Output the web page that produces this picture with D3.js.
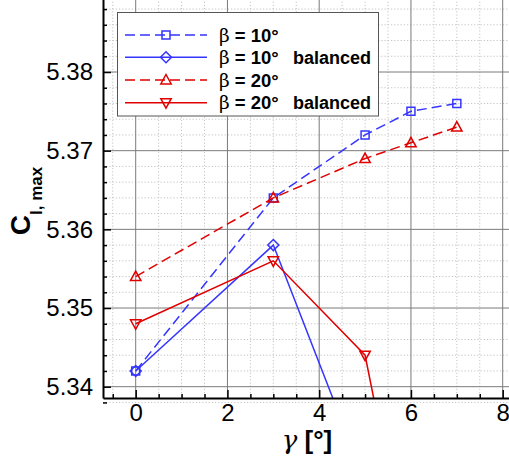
<!DOCTYPE html>
<html>
<head>
<meta charset="utf-8">
<script src="https://cdn.jsdelivr.net/npm/d3@7"></script>
<style>
  html, body { margin: 0; padding: 0; background: #fff; }
  svg { display: block; font-family: "Liberation Sans", Arial, Helvetica, sans-serif; }
</style>
</head>
<body>
<svg id="chart" width="509" height="457"></svg>
<script>
// Maximum lift coefficient vs. gamma for two beta settings
const gammaFull = [0, 3, 5, 6, 7];
const clBeta10 = [5.342, 5.364, 5.372, 5.375, 5.376];
const clBeta20 = [5.354, 5.364, 5.369, 5.371, 5.373];
const gammaBal10 = [0, 3, 5];
const clBeta10Bal = [5.342, 5.358, 5.328];
const gammaBal20 = [0, 3, 5, 6];
const clBeta20Bal = [5.348, 5.356, 5.344, 5.315];

const xTicks = [0, 2, 4, 6, 8];
const yTicks = [5.34, 5.35, 5.36, 5.37, 5.38];
const seriesNames = ["\u03b2 = 10\u00b0", "\u03b2 = 10\u00b0", "\u03b2 = 20\u00b0", "\u03b2 = 20\u00b0"];
const seriesTags = ["", "balanced", "", "balanced"];

const BLUE = "#3535ff";
const RED = "#e00000";

const svg = d3.select("#chart");

// plot frame (extends a little past the visible page at top and right)
const frameL = 103, frameR = 512, frameB = 398, frameT = -8;

const x = d3.scaleLinear().domain([0, 8]).range([135.7, 502.7]);
const y = d3.scaleLinear().domain([5.34, 5.38]).range([386.7, 72]);

const xFull = x.copy().domain([x.invert(frameL), x.invert(frameR)]).range([frameL, frameR]);
const yFull = y.copy().domain([y.invert(frameB), y.invert(frameT)]).range([frameB, frameT]);

const xMinor = d3.range(-0.5, 8.51, 0.5).filter(v => Math.abs(v % 2) > 1e-9);
const yMinor = d3.range(0, 26).map(i => +(5.338 + i * 0.002).toFixed(3))
  .filter(v => !yTicks.some(t => Math.abs(t - v) < 1e-9));

svg.append("defs").append("clipPath").attr("id", "plotClip")
  .append("rect").attr("x", frameL).attr("y", frameT)
  .attr("width", frameR - frameL).attr("height", frameB - frameT);

// grid
const grid = svg.append("g");
grid.selectAll("line.vmin").data(xMinor).join("line")
  .attr("x1", d => x(d)).attr("x2", d => x(d)).attr("y1", frameT).attr("y2", frameB)
  .attr("stroke", "#c4c4c4").attr("stroke-width", 1).attr("stroke-dasharray", "1.2,2");
grid.selectAll("line.hmin").data(yMinor).join("line")
  .attr("x1", frameL).attr("x2", frameR).attr("y1", d => y(d)).attr("y2", d => y(d))
  .attr("stroke", "#c4c4c4").attr("stroke-width", 1).attr("stroke-dasharray", "1.2,2");
grid.selectAll("line.vmaj").data(xTicks).join("line")
  .attr("x1", d => x(d)).attr("x2", d => x(d)).attr("y1", frameT).attr("y2", frameB)
  .attr("stroke", "#7a7a7a").attr("stroke-width", 1);
grid.selectAll("line.hmaj").data(yTicks).join("line")
  .attr("x1", frameL).attr("x2", frameR).attr("y1", d => y(d)).attr("y2", d => y(d))
  .attr("stroke", "#7a7a7a").attr("stroke-width", 1);

// data series
const plot = svg.append("g").attr("clip-path", "url(#plotClip)");
const series = [
  { gx: gammaFull, cl: clBeta10, color: BLUE, dash: "10,5", marker: "square" },
  { gx: gammaBal10, cl: clBeta10Bal, color: BLUE, dash: null, marker: "diamond" },
  { gx: gammaFull, cl: clBeta20, color: RED, dash: "10,5", marker: "up" },
  { gx: gammaBal20, cl: clBeta20Bal, color: RED, dash: null, marker: "down" }
];

function markerPath(type) {
  if (type === "square") return "M-4,-4H4V4H-4Z";
  if (type === "diamond") return "M0,-5.5L5.5,0L0,5.5L-5.5,0Z";
  if (type === "up") return "M0,-5.5L5.2,4L-5.2,4Z";
  return "M0,5.5L5.2,-4L-5.2,-4Z";
}

const line = d3.line().x(d => x(d[0])).y(d => y(d[1]));
series.forEach(s => {
  const pts = s.gx.map((g, i) => [g, s.cl[i]]);
  plot.append("path").datum(pts).attr("d", line)
    .attr("fill", "none").attr("stroke", s.color).attr("stroke-width", 1.5)
    .attr("stroke-dasharray", s.dash);
  plot.selectAll(null).data(pts).join("path")
    .attr("transform", d => `translate(${x(d[0])},${y(d[1])})`)
    .attr("d", markerPath(s.marker))
    .attr("fill", "none").attr("stroke", s.color).attr("stroke-width", 1.5);
});

// axes
const fontAxis = 24;
const xAxis = svg.append("g").attr("transform", `translate(0,${frameB})`)
  .call(d3.axisBottom(xFull).tickValues(xTicks).tickFormat(d3.format("d"))
    .tickSizeInner(-8).tickSizeOuter(0).tickPadding(6));
xAxis.append("g").call(d3.axisBottom(xFull).tickValues(xMinor).tickFormat("")
    .tickSizeInner(-4).tickSizeOuter(0))
  .select(".domain").remove();
const yAxis = svg.append("g").attr("transform", `translate(${frameL},0)`)
  .call(d3.axisLeft(yFull).tickValues(yTicks).tickFormat(d3.format(".2f"))
    .tickSizeInner(-8).tickSizeOuter(0).tickPadding(10));
yAxis.append("g").call(d3.axisLeft(yFull).tickValues(yMinor).tickFormat("")
    .tickSizeInner(-4).tickSizeOuter(0))
  .select(".domain").remove();

[xAxis, yAxis].forEach(a => {
  a.selectAll(".domain").attr("stroke", "#000").attr("stroke-width", 2);
  a.selectAll(".tick line").attr("stroke", "#000").attr("stroke-width", 1.5);
  a.selectAll("text").attr("font-size", fontAxis).attr("fill", "#000")
    .attr("font-family", "'Liberation Sans', Arial, sans-serif");
});

// axis titles
const xTitle = svg.append("text").attr("x", 307).attr("y", 449)
  .attr("text-anchor", "middle").attr("font-size", 26).attr("fill", "#000");
xTitle.append("tspan").attr("font-family", "'DejaVu Serif', serif").attr("font-style", "italic").text("\u03b3");
xTitle.append("tspan").attr("font-weight", "bold").text(" [\u00b0]");

const yTitle = svg.append("text")
  .attr("transform", "translate(30,201) rotate(-90)")
  .attr("text-anchor", "middle").attr("font-weight", "bold").attr("fill", "#000");
yTitle.append("tspan").attr("font-size", 28).text("C");
yTitle.append("tspan").attr("font-size", 17).attr("dy", 12).text("l, max");

// legend
const lg = svg.append("g");
lg.append("rect").attr("x", 117.5).attr("y", 12.5).attr("width", 261).attr("height", 103.5)
  .attr("fill", "#fff").attr("stroke", "#555").attr("stroke-width", 1);
const rowY = [35, 57.3, 80, 102.7];
series.forEach((s, i) => {
  const g = lg.append("g").attr("transform", `translate(0,${rowY[i]})`);
  g.append("line").attr("x1", 125).attr("x2", 207).attr("y1", 0).attr("y2", 0)
    .attr("stroke", s.color).attr("stroke-width", 1.5).attr("stroke-dasharray", s.dash);
  g.append("path").attr("transform", "translate(166,0)").attr("d", markerPath(s.marker))
    .attr("fill", "none").attr("stroke", s.color).attr("stroke-width", 1.5);
  const t = g.append("text").attr("x", 219).attr("y", 6.5).attr("font-size", 18.5).attr("fill", "#000");
  t.append("tspan").attr("font-family", "'DejaVu Serif', serif").attr("font-weight", "normal").text(seriesNames[i][0]);
  t.append("tspan").attr("font-weight", "bold").text(seriesNames[i].slice(1));
  if (seriesTags[i]) {
    g.append("text").attr("x", 293).attr("y", 6.5).attr("font-size", 18)
      .attr("font-weight", "bold").attr("fill", "#000").text(seriesTags[i]);
  }
});
</script>
</body>
</html>
